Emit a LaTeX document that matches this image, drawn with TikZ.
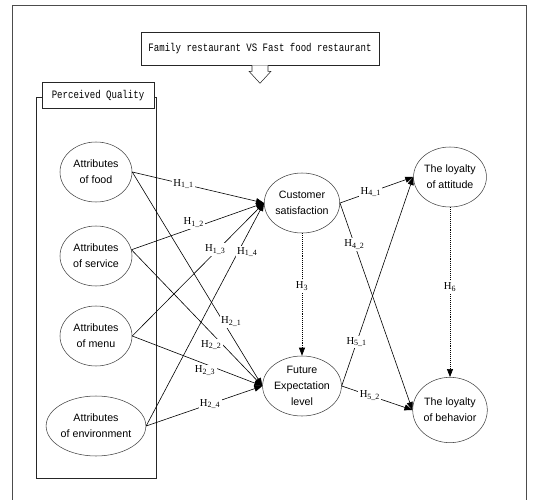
\documentclass[tikz,border=0pt]{standalone}
\usepackage{fontspec}
\setmainfont{Liberation Sans}
\newfontfamily\boxfont[FakeStretch=0.8]{Liberation Mono}
\newfontfamily\hfont{Liberation Serif}
\usetikzlibrary{positioning, arrows.meta, calc, shapes.geometric}
\tikzset{
  hdr/.style={draw=black!85, fill=white, font=\boxfont\fontsize{8.5}{10}\selectfont,
              inner sep=0pt},
  attr/.style={ellipse, draw=black!75, thin, align=center, inner sep=0pt,
               font=\fontsize{8}{12}\selectfont,
               minimum width=54pt, minimum height=45pt},
  arr/.style={-{Triangle[length=6pt, width=4.5pt]}, line width=0.45pt},
  dotarr/.style={arr, densely dotted},
  lbl/.style={fill=white, inner sep=1pt, font=\hfont\fontsize{8}{9}\selectfont},
}

\begin{document}
\begin{tikzpicture}[x=0.75pt, y=-0.75pt]
\useasboundingbox (0,0) rectangle (533,500);

% outer frame
\draw[black!70] (12,500) -- (12,5) -- (526,5) -- (526,500);

% ===================== heading and perceived quality box =====================
\node[hdr, minimum width=178.5pt, minimum height=24.75pt] (title) at (260,48.5)
  {Family restaurant VS Fast food restaurant};
\draw[black!85, fill=white] ($(title.south)+(-8,0)$) -- ++(0,6) -- ++(-3,0)
  -- ($(title.south)+(0,18)$) -- ($(title.south)+(11,6)$) -- ++(-3,0) -- ++(0,-6);

\node[draw=black!85, line width=0.5pt, minimum width=90pt, minimum height=285.75pt]
  (pqframe) at (96,287.5) {};
\node[hdr, minimum width=84pt, minimum height=19.5pt] (pq)
  at ($(pqframe.north)+(2,-1)$) {Perceived Quality};

% ===================== constructs ==========================================
\node[attr] (food) at (96,172) {Attributes\\of food};
\node[attr] (serv) at (96,256) {Attributes\\of service};
\node[attr] (menu) at (96,336) {Attributes\\of menu};
\node[attr] (env)  at (96,426) {Attributes\\of environment};

\node[attr] (cs)  at (302,203) {Customer\\satisfaction};
\node[attr] (fe)  at (302,386) {Future\\Expectation\\level};
\node[attr] (att) at (450,177) {The loyalty\\of attitude};
\node[attr, minimum height=49pt] (beh) at (450,410) {The loyalty\\of behavior};

% ===================== arrows ==============================================
% quality -> satisfaction
\draw[arr] (food.east) -- node[lbl, pos=0.39]{H\textsubscript{1\_1}} (cs.west);
\draw[arr] (serv.10) -- node[lbl, pos=0.47, yshift=4]{H\textsubscript{1\_2}} (cs.west);
\draw[arr] (menu.east) -- node[lbl, pos=0.6, xshift=3, yshift=5]{H\textsubscript{1\_3}} (cs.west);
\draw[arr] (env.east) -- node[lbl, pos=0.78, xshift=7]{H\textsubscript{1\_4}} (cs.west);
% quality -> expectation
\draw[arr] (food.east) -- node[lbl, pos=0.7, xshift=6]{H\textsubscript{2\_1}} (fe.west);
\draw[arr] (serv.10) -- node[lbl, pos=0.61, yshift=-9]{H\textsubscript{2\_2}} (fe.west);
\draw[arr] (menu.east) -- node[lbl, pos=0.56, yshift=-5]{H\textsubscript{2\_3}} (fe.west);
\draw[arr] (env.east) -- node[lbl, pos=0.55]{H\textsubscript{2\_4}} (fe.west);
% satisfaction / expectation -> loyalty
\draw[dotarr] (cs.south) -- node[lbl, pos=0.43]{H\textsubscript{3}} (fe.north);
\draw[arr] (cs.east) -- node[lbl, pos=0.42]{H\textsubscript{4\_1}} (att.west);
\draw[arr] (cs.east) -- node[lbl, pos=0.2]{H\textsubscript{4\_2}} (beh.west);
\draw[arr] (fe.east) -- node[lbl, pos=0.21]{H\textsubscript{5\_1}} (att.west);
\draw[arr] (fe.east) -- node[lbl, pos=0.4]{H\textsubscript{5\_2}} (beh.west);
\draw[dotarr] (att.south) -- node[lbl, pos=0.47]{H\textsubscript{6}} (beh.north);

\end{tikzpicture}
\end{document}
